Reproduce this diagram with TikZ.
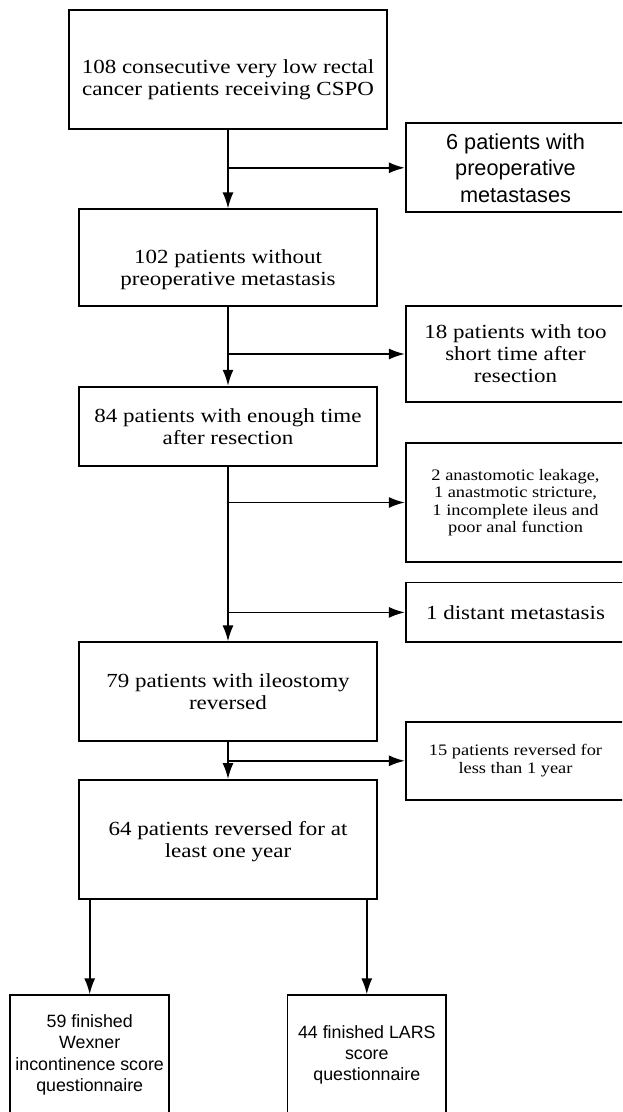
\documentclass[tikz,border=0pt]{standalone}
\usepackage{fontspec}
\setmainfont{Liberation Serif}[FakeStretch=1.15]
\setsansfont{Liberation Sans}
\usetikzlibrary{arrows.meta}
\tikzset{
    block/.style = {draw, rectangle, line width=1.8pt,
        inner sep=0pt, align=center,
        font=\fontsize{20}{22}\selectfont},
    mainbox/.style = {block, minimum width=297.5pt},
    sidebox/.style = {block, minimum width=219.4pt},
    smalltext/.style = {font=\fontsize{16}{17.5}\selectfont},
    sanstext/.style = {font=\sffamily\fontsize{17.8}{21.3}\selectfont},
    arrow/.style={draw, line width=1.8pt, -{Latex[length=16pt,width=11pt]}}
}
\newcommand{\lowered}[1]{\rule{0pt}{#1}}

\begin{document}
\begin{tikzpicture}[x=1pt, y=1pt]
    \useasboundingbox (0,0) rectangle (622,-1112);
    \clip (0,0) rectangle (622,-1112);
    % main column
    \node [block, minimum width=317.3pt, minimum height=119.3pt] (cspo) at (228,-69.7) {\lowered{34pt}108 consecutive very low rectal\\cancer patients receiving CSPO};
    \node [mainbox, minimum height=96.7pt] (nomet) at (228,-257.7) {\lowered{38pt}102 patients without\\preoperative metastasis};
    \node [mainbox, minimum height=79pt] (enough) at (228,-426.2) {84 patients with enough time\\after resection};
    \node [mainbox, minimum height=98.4pt] (ileo) at (228,-691.5) {79 patients with ileostomy\\reversed};
    \node [mainbox, minimum height=119pt] (year) at (228,-839.5) {\lowered{18pt}64 patients reversed for at\\least one year};
    % excluded patients
    \node [sidebox, minimum height=89pt, font=\sffamily\fontsize{21.7}{26.5}\selectfont] (premet) at (515.5,-167.8) {6 patients with\\preoperative\\metastases};
    \node [sidebox, minimum height=96.6pt] (short) at (515.5,-354) {18 patients with too\\short time after\\resection};
    \node [sidebox, smalltext, minimum height=118.4pt] (compl) at (515.5,-502.5) {2 anastomotic leakage,\\1 anastmotic stricture,\\1 incomplete ileus and\\poor anal function};
    \node [sidebox, minimum height=59.8pt] (distmet) at (515.5,-612.4) {1 distant metastasis};
    \node [sidebox, smalltext, minimum height=78.3pt] (lessyear) at (515.5,-760.8) {15 patients reversed for\\less than 1 year};
    % questionnaires
    \node [block, sanstext, minimum width=159pt, minimum height=119pt] (wexner) at (89.7,-1054.8) {59 finished\\Wexner\\incontinence score\\questionnaire};
    \node [block, sanstext, minimum width=158.6pt, minimum height=119pt] (lars) at (366.8,-1054.8) {44 finished LARS\\score\\questionnaire};
    % connectors
    \draw [arrow] (cspo) -- (nomet);
    \draw [arrow] (cspo |- premet) -- (premet);
    \draw [arrow] (nomet) -- (enough);
    \draw [arrow] (nomet |- short) -- (short);
    \draw [arrow] (enough) -- (ileo);
    \draw [arrow] (enough |- compl) -- (compl);
    \draw [arrow] (enough |- distmet) -- (distmet);
    \draw [arrow] (ileo) -- (year);
    \draw [arrow] (ileo |- lessyear) -- (lessyear);
    \draw [arrow] (year.south -| wexner) -- (wexner);
    \draw [arrow] (year.south -| lars) -- (lars);
\end{tikzpicture}
\end{document}
